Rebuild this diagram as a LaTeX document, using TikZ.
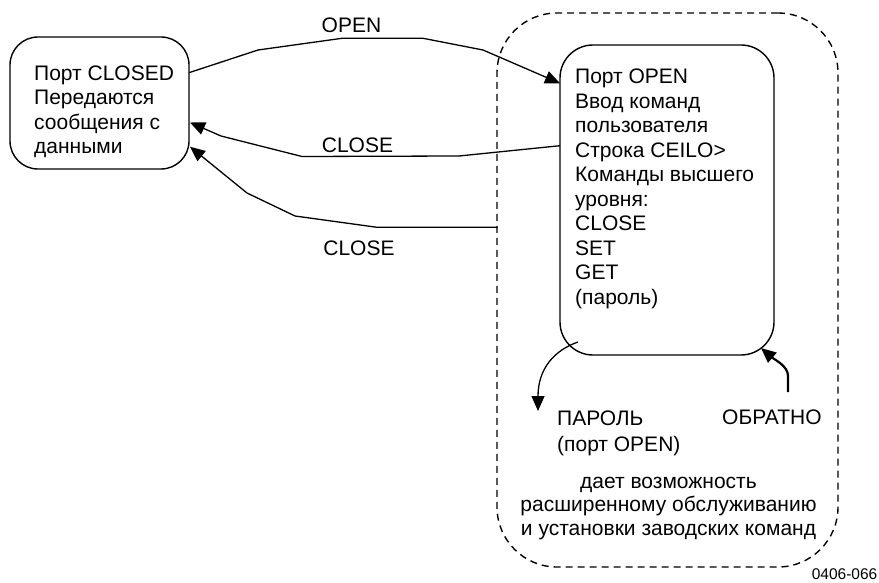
\documentclass[tikz,border=0pt]{standalone}
\usepackage{fontspec}
\setmainfont{Liberation Sans}
\usetikzlibrary{arrows.meta,calc}
\begin{document}
\begin{tikzpicture}[x=1pt,y=-1pt,
  box/.style={draw, line width=1.4pt, rounded corners=28pt, inner sep=0pt},
  zonebox/.style={draw, line width=1.4pt, dash pattern=on 7pt off 5pt, rounded corners=60pt, inner sep=0pt},
  txt/.style={inner sep=0pt, align=left, font=\fontsize{21}{24.5}\selectfont},
  lbl/.style={inner sep=0pt, font=\fontsize{21}{24.5}\selectfont},
  conn/.style={line width=1.3pt, -{Triangle[length=15pt,width=13pt]}},
]
\useasboundingbox (0,0) rectangle (879,583);

% boxes
\node[zonebox, minimum width=341pt, minimum height=554pt] (zone) at (667.5,290) {};
\node[box, minimum width=179pt, minimum height=132pt] (closed) at (99.5,103) {};
\node[box, rounded corners=33pt, minimum width=214pt, minimum height=310pt] (openbox) at (667,200) {};

% texts (base anchor = baseline of the last line)
\node[txt, anchor=base west] (closedtxt) at (34,153.8) {Порт CLOSED\\Передаются\\сообщения с\\данными};
\node[txt, anchor=base west] (opentxt) at (575,304) {Порт OPEN\\Ввод команд\\пользователя\\Строка CEILO>\\Команды высшего\\уровня:\\CLOSE\\SET\\GET\\(пароль)};

\node[lbl, anchor=base] (lopen) at (351.5,32.3) {OPEN};
\node[lbl, anchor=base] (lclose1) at (357.5,152.3) {CLOSE};
\node[lbl, anchor=base] (lclose2) at (359,255.3) {CLOSE};

\node[txt, anchor=base west, font=\fontsize{21}{26.3}\selectfont] (parol) at (557,451.3) {ПАРОЛЬ\\(порт OPEN)};
\node[lbl, anchor=base west] (back) at (722,424.5) {ОБРАТНО};
\node[txt, align=center, anchor=base, font=\fontsize{21}{23.5}\selectfont] (note) at (668.5,535.3) {дает возможность\\расширенному обслуживанию\\и установки заводских команд};
\node[inner sep=0pt, anchor=base east, font=\fontsize{15.5}{18}\selectfont] (code) at (877.5,579.5) {0406-066};

% connector end points
\coordinate (o1) at (189,72.7);
\coordinate (o2) at (560,83.3);
\coordinate (c1s) at (560,145.7);
\coordinate (c1e) at (190,122.5);
\coordinate (c2s) at (497.5,227.3);
\coordinate (c2e) at (190,146.7);
\coordinate (p1) at (578,342);
\coordinate (p2) at (538,411);
\coordinate (b1) at (788,392);
\coordinate (b2) at (761,348);

% connectors
\draw[conn] (o1) -- (258,50) -- (342,38.3) -- (423,38.3) -- (483,50) -- (o2);
\draw[conn] (c1s) -- (459,156) -- (302,156.5) -- (221,136) -- (c1e);
\draw[conn] (c2s) -- (377,227.3) -- (295,216) -- (247,193) -- (c2e);
\draw[conn] (p1) .. controls (555,350) and (538,368) .. (p2);
\draw[conn, line width=2.2pt] (b1) -- (788,376) .. controls (788,366) and (775,360) .. (b2);
\end{tikzpicture}
\end{document}
